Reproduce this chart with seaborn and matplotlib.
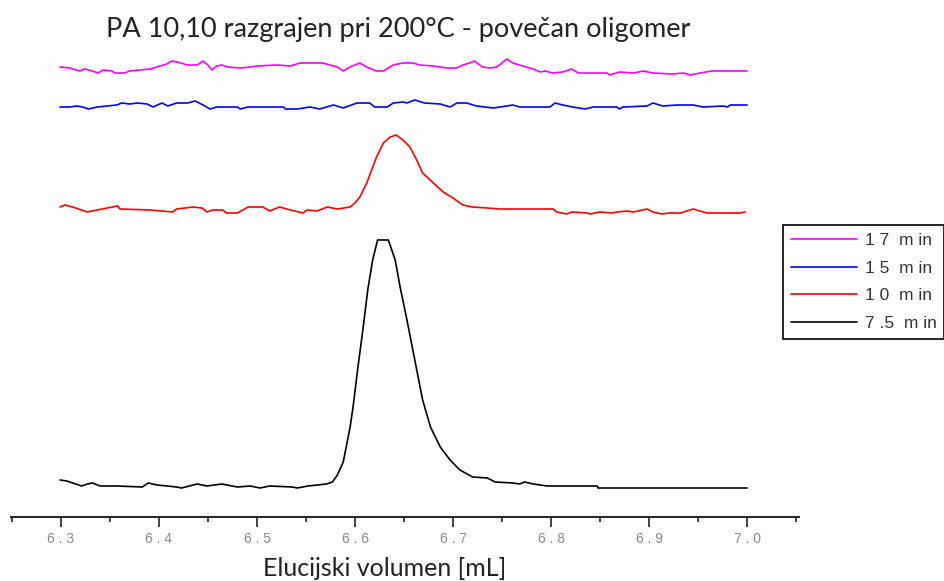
import numpy as np
import matplotlib.pyplot as plt
import seaborn as sns
import pandas as pd
from matplotlib.ticker import MultipleLocator, FuncFormatter

# Elution volume (mL) and detector signal (a.u., curves stacked with offsets)
vol_17 = [6.299, 6.309, 6.319, 6.324, 6.332, 6.338, 6.343, 6.352, 6.355, 6.365, 6.370, 6.381,
          6.391, 6.401, 6.408, 6.413, 6.419, 6.429, 6.439, 6.445, 6.450, 6.454, 6.459, 6.464,
          6.470, 6.483, 6.493, 6.500, 6.520, 6.534, 6.544, 6.567, 6.582, 6.588, 6.597, 6.605,
          6.612, 6.622, 6.629, 6.639, 6.649, 6.659, 6.666, 6.680, 6.694, 6.704, 6.710, 6.717,
          6.722, 6.730, 6.738, 6.745, 6.755, 6.761, 6.771, 6.782, 6.789, 6.794, 6.802, 6.812,
          6.821, 6.828, 6.857, 6.860, 6.870, 6.884, 6.894, 6.904, 6.924, 6.935, 6.942, 6.952,
          6.964, 7.000]
sig_17 = [450, 449, 446, 448, 446, 444, 447, 446, 444, 444, 446, 447,
          448, 451, 453, 456, 455, 452, 452, 456, 452, 447, 451, 452,
          450, 449, 450, 451, 452, 451, 454, 454, 450, 446, 451, 454,
          450, 446, 446, 452, 454, 454, 452, 451, 449, 449, 452, 454,
          456, 450, 449, 450, 458, 454, 451, 448, 445, 446, 444, 445,
          448, 444, 444, 442, 445, 444, 446, 444, 443, 444, 442, 444,
          446, 446]

vol_15 = [6.299, 6.309, 6.316, 6.322, 6.328, 6.337, 6.357, 6.362, 6.370, 6.378, 6.388, 6.394,
          6.403, 6.409, 6.418, 6.429, 6.437, 6.445, 6.452, 6.459, 6.480, 6.483, 6.491, 6.527,
          6.529, 6.541, 6.554, 6.564, 6.578, 6.588, 6.602, 6.615, 6.620, 6.633, 6.639, 6.649,
          6.653, 6.661, 6.671, 6.687, 6.697, 6.704, 6.714, 6.724, 6.741, 6.748, 6.761, 6.768,
          6.799, 6.804, 6.812, 6.822, 6.835, 6.843, 6.867, 6.870, 6.873, 6.898, 6.904, 6.914,
          6.929, 6.945, 6.955, 6.976, 6.980, 6.983, 7.000]
sig_15 = [410, 410, 411, 410, 408, 410, 412, 414, 413, 414, 413, 410,
          414, 411, 414, 414, 416, 412, 408, 410, 410, 408, 410, 410,
          408, 408, 410, 408, 412, 409, 414, 414, 410, 410, 414, 415,
          414, 417, 414, 413, 410, 414, 414, 411, 409, 410, 412, 410,
          410, 414, 412, 410, 408, 410, 410, 408, 410, 411, 414, 411,
          412, 412, 410, 411, 410, 412, 412]

vol_10 = [6.299, 6.304, 6.312, 6.321, 6.327, 6.347, 6.358, 6.360, 6.391, 6.414, 6.418, 6.435,
          6.444, 6.449, 6.455, 6.465, 6.469, 6.480, 6.491, 6.506, 6.513, 6.523, 6.534, 6.547,
          6.551, 6.561, 6.572, 6.582, 6.595, 6.600, 6.605, 6.612, 6.617, 6.622, 6.629, 6.636,
          6.642, 6.649, 6.656, 6.663, 6.669, 6.680, 6.690, 6.700, 6.710, 6.720, 6.735, 6.748,
          6.802, 6.806, 6.816, 6.821, 6.837, 6.840, 6.850, 6.863, 6.867, 6.878, 6.884, 6.898,
          6.904, 6.913, 6.921, 6.932, 6.945, 6.952, 6.959, 6.993, 6.998]
sig_10 = [310, 312, 310, 307, 305, 309, 311, 308, 307, 305, 308, 310,
          309, 305, 307, 307, 304, 304, 310, 310, 306, 310, 307, 304,
          307, 306, 310, 308, 310, 314, 320, 334, 347, 360, 374, 380,
          382, 377, 370, 357, 344, 334, 325, 319, 312, 310, 309, 308,
          308, 305, 303, 305, 304, 303, 305, 304, 305, 306, 305, 308,
          305, 303, 304, 304, 308, 306, 304, 304, 305]

vol_75 = [6.299, 6.306, 6.312, 6.321, 6.327, 6.332, 6.340, 6.357, 6.383, 6.389, 6.398, 6.418,
          6.423, 6.439, 6.449, 6.464, 6.480, 6.493, 6.503, 6.513, 6.536, 6.541, 6.552, 6.571,
          6.577, 6.582, 6.588, 6.595, 6.598, 6.603, 6.608, 6.613, 6.618, 6.623, 6.634, 6.641,
          6.646, 6.653, 6.661, 6.669, 6.677, 6.687, 6.697, 6.707, 6.720, 6.735, 6.743, 6.761,
          6.768, 6.773, 6.782, 6.796, 6.847, 6.848, 7.000]
sig_75 = [37, 36, 34, 31, 33, 34, 31, 31, 30, 34, 32, 30,
          29, 33, 31, 33, 30, 31, 29, 31, 30, 29, 31, 33,
          35, 42, 55, 90, 110, 150, 187, 227, 257, 277, 277, 257,
          230, 197, 157, 117, 90, 70, 57, 47, 40, 39, 35, 34,
          33, 35, 33, 31, 31, 29, 29]

labels = ['1 7  m in', '1 5  m in', '1 0  m in', '7 .5  m in']
colors = ['#FF00FF', '#0000FF', '#FF0000', '#000000']

frames = []
for lab, xs, ys in zip(labels, [vol_17, vol_15, vol_10, vol_75], [sig_17, sig_15, sig_10, sig_75]):
    frames.append(pd.DataFrame({'vol': xs, 'signal': ys, 'time': lab}))
df = pd.concat(frames, ignore_index=True)

sns.set_theme(style='white')
plt.rcParams['font.family'] = ['Lato', 'DejaVu Sans']

fig = plt.figure(figsize=(9.45, 5.81), dpi=100)
ax = fig.add_axes([11 / 945, 64 / 581, 788 / 945, 467 / 581])

sns.lineplot(data=df, x='vol', y='signal', hue='time', hue_order=labels, palette=colors,
             sort=False, estimator=None, linewidth=1.2, ax=ax)

ax.set_xlim(6.249, 7.053)
ax.set_ylim(0, 467)

# only the bottom axis is shown
for side in ['left', 'right', 'top']:
    ax.spines[side].set_visible(False)
ax.spines['bottom'].set_color('#222222')
ax.spines['bottom'].set_linewidth(1.4)
ax.set_yticks([])
ax.set_ylabel('')

ax.xaxis.set_major_locator(MultipleLocator(0.1))
ax.xaxis.set_minor_locator(MultipleLocator(0.05))
ax.xaxis.set_major_formatter(FuncFormatter(lambda v, p: ' '.join(f'{v:.1f}')))
ax.tick_params(axis='x', which='major', direction='out', length=7, width=1.2, color='#222222',
               bottom=True, labelsize=10, labelcolor='#8a8a8a', pad=4)
ax.tick_params(axis='x', which='minor', direction='out', length=3.5, width=1.2, color='#222222',
               bottom=True)
for t in ax.get_xticklabels():
    t.set_family('Liberation Sans')

ax.set_xlabel('Elucijski volumen [mL]', fontsize=18, color='#222222')
ax.xaxis.set_label_coords((385 - 11) / 788, -(568 - 517) / 467)
ax.xaxis.label.set_va('center')
fig.text(398 / 945, 1 - 30 / 581, 'PA 10,10 razgrajen pri 200°C - povečan oligomer',
         ha='center', va='center', fontsize=19.5, color='#222222')

handles, labs = ax.get_legend_handles_labels()
ax.get_legend().remove()
leg = fig.legend(handles, labs, loc='upper left', bbox_to_anchor=(783 / 945, 1 - 225 / 581),
                 frameon=True, fancybox=False, edgecolor='black', framealpha=1,
                 handlelength=3.8, labelspacing=0.72, borderaxespad=0,
                 borderpad=0.45, handletextpad=0.45,
                 prop={'family': 'Liberation Sans', 'size': 12.5})
leg.get_frame().set_linewidth(1.2)
for t in leg.get_texts():
    t.set_color('#333333')

fig.savefig('out.png', dpi=100)
